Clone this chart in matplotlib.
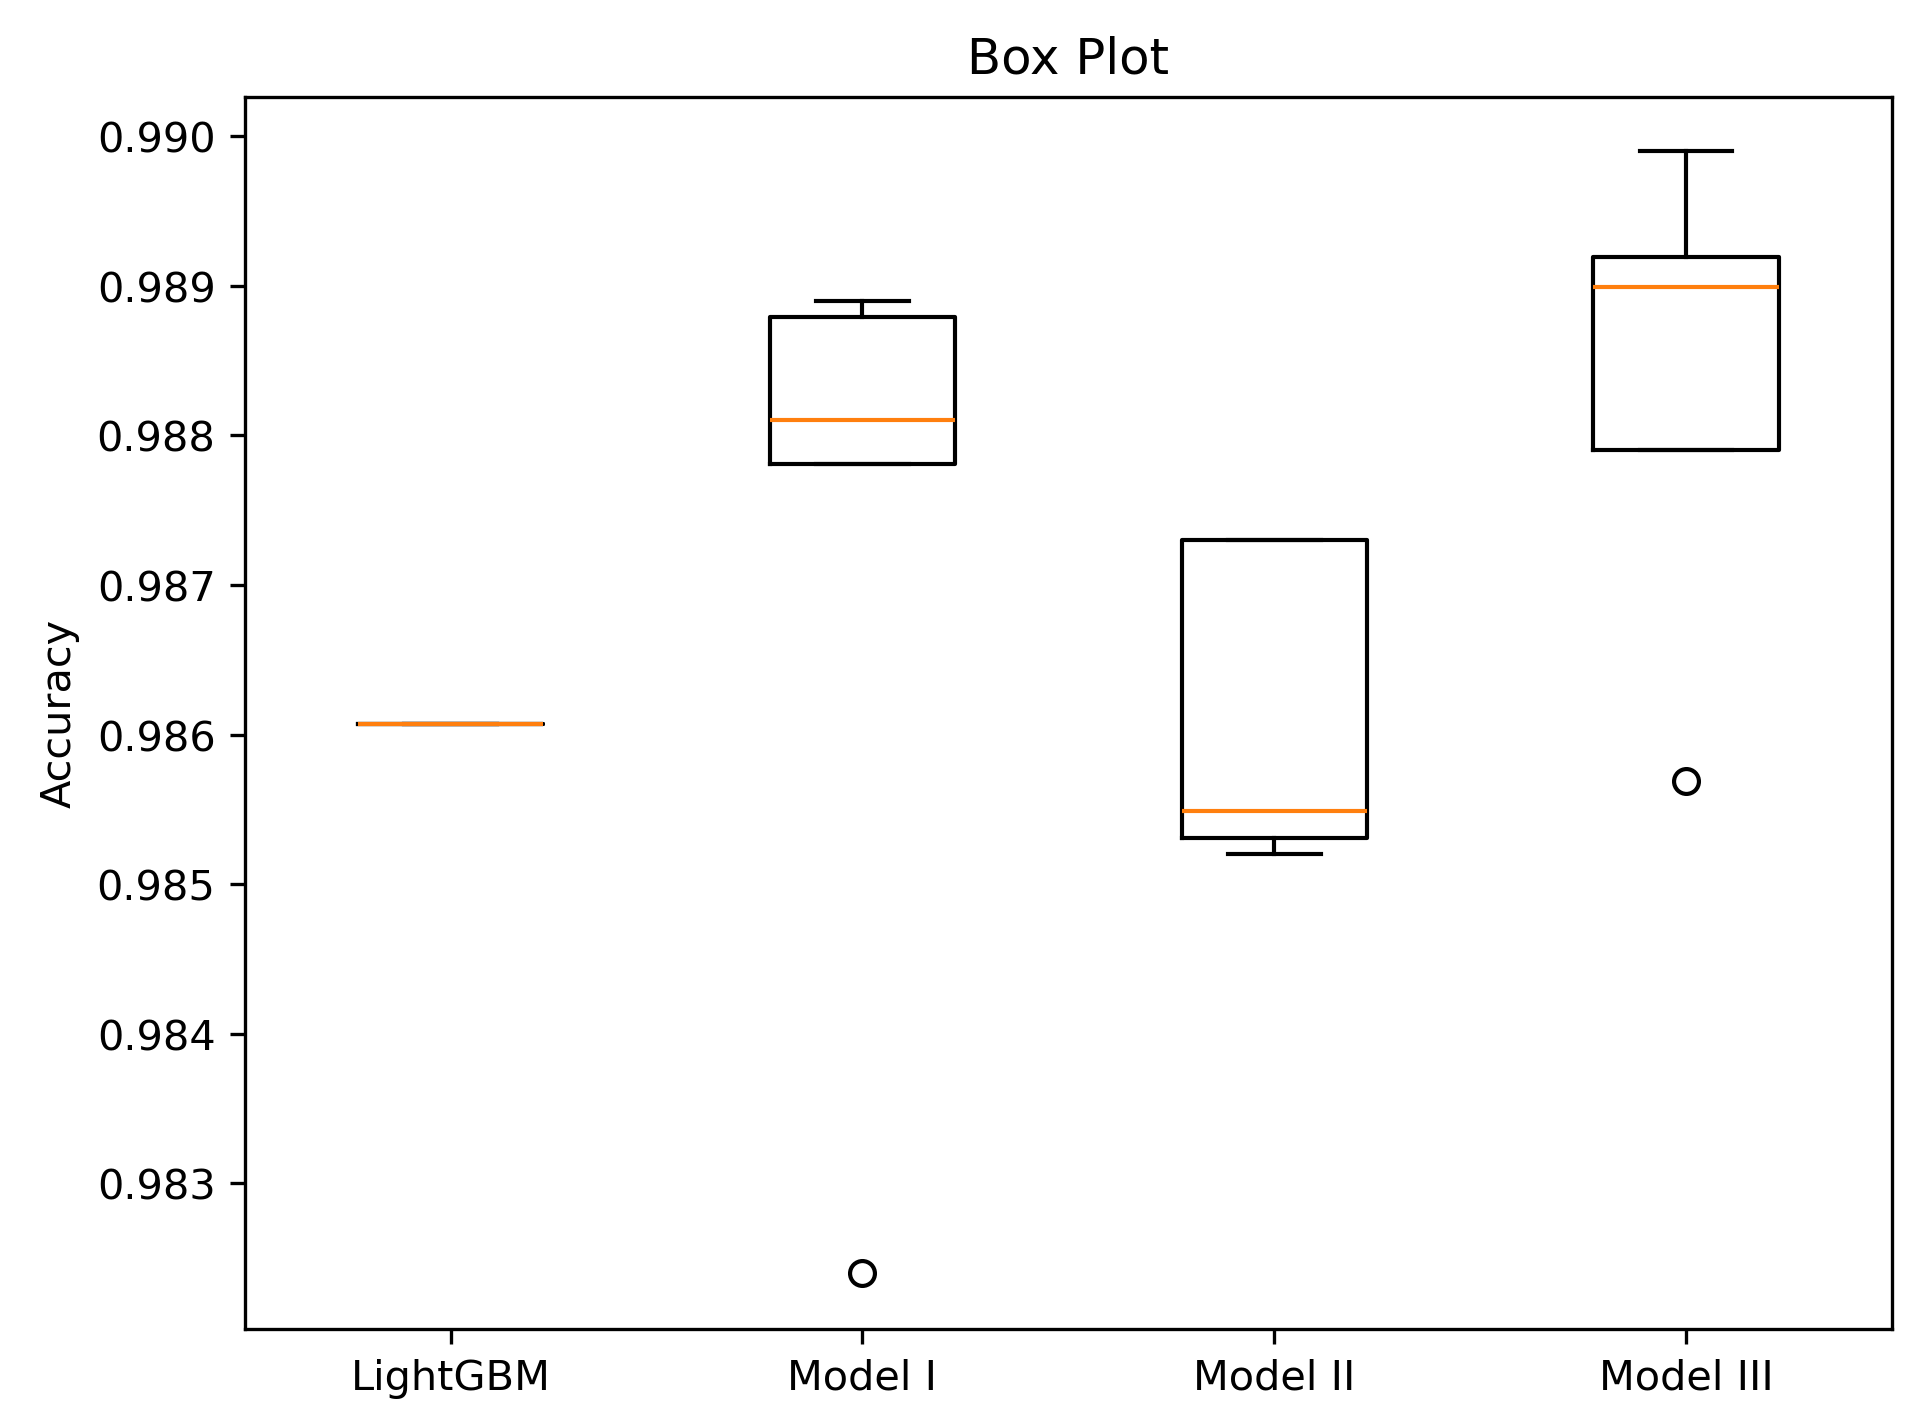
import matplotlib
matplotlib.use("Agg")
import matplotlib.pyplot as plt

labels = ["LightGBM", "Model I", "Model II", "Model III"]
whislo = [0.98607, 0.98781, 0.98520, 0.98790]
q1 = [0.98607, 0.98781, 0.98531, 0.98790]
med = [0.98607, 0.98810, 0.98549, 0.98899]
q3 = [0.98607, 0.98879, 0.98730, 0.98919]
whishi = [0.98607, 0.98890, 0.98730, 0.98990]
fliers = [[], [0.98240], [], [0.98569]]

stats = [dict(label=l, whislo=a, q1=b, med=c, q3=d, whishi=e, fliers=f)
         for l, a, b, c, d, e, f in zip(labels, whislo, q1, med, q3, whishi, fliers)]

fig = plt.figure(figsize=(6.4, 4.762), dpi=298.6)
ax = fig.add_axes([0.128, 0.065, 0.862, 0.866])
ax.bxp(stats)
ax.set_ylim(0.98203, 0.99026)
ax.set_yticks([0.983, 0.984, 0.985, 0.986, 0.987, 0.988, 0.989, 0.990])
ax.set_ylabel("Accuracy")
ax.set_title("Box Plot")
fig.savefig("out.png")
